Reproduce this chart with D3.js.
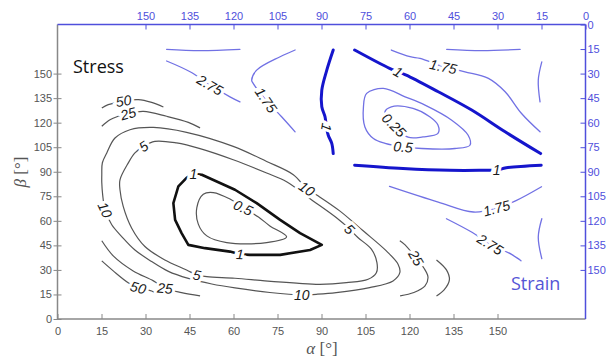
<!DOCTYPE html>
<html>
<head>
<meta charset="utf-8">
<script src="https://cdn.jsdelivr.net/npm/d3@7"></script>
<style>
  body { margin: 0; background: #fff; }
  svg { display: block; }
  .tick text { font-family: "Liberation Sans", Arial, sans-serif; font-size: 11px; }
</style>
</head>
<body>
<svg id="contourVis" width="606" height="362"></svg>
<script>
// axis ticks (degrees)
const tickValues = [0, 15, 30, 45, 60, 75, 90, 105, 120, 135, 150];

// stress contours, [alpha, beta] on bottom/left axes
const stress50Upper = [[15.1,129],[17.3,131],[19.6,132.1],[22.5,133.3],[27.5,134.1],[32.1,132.4],[36.1,129.6]];
const stress25Upper = [[15.1,117.8],[17.9,121.8],[20.7,123.9],[24.1,125.6],[29.3,126.9],[37.2,123.9],[44.6,120.2],[48.6,116.8]];
const stress10 = [[15.1,88.2],[15.3,95.5],[16.8,101.5],[19.6,110.6],[24.7,115.7],[32.7,117.1],[44.0,114.1],[59.9,105.5],[71.3,96.3],[80.4,88.2],[85.0,79.6],[88.8,75.3],[96.2,66.1],[104.2,53.9],[112.1,41.6],[116.1,33.5],[116.7,28.3],[114.4,23.3],[106.4,19.2],[95.0,16.1],[88.2,15.1],[83.3,14.7],[72.4,16.2],[60.5,19.0],[52.6,21.4],[44.6,24.8],[37.8,29.1],[32.1,35.1],[26.4,42.2],[21.9,50.4],[18.5,57.6],[16.2,66.7],[15.4,75.9],[15.1,83.3]];
const stress5 = [[21.3,85.1],[24.1,95.3],[26.4,101.5],[29.3,105.5],[33.2,108.6],[40.6,107.6],[48.6,104.1],[59.9,97.3],[71.3,89.2],[78.1,83.9],[86.1,73.5],[95.0,62.0],[99.6,54.9],[102.4,49.8],[107.0,42.7],[108.9,34.5],[108.7,28.3],[105.9,24.3],[98.5,22.2],[89.4,21.2],[81.5,21.9],[70.7,23.3],[60.5,24.9],[50.9,25.9],[47.5,26.9],[44.0,30.0],[36.6,36.1],[29.8,44.3],[25.3,55.5],[22.4,68.8],[21.3,79.0]];
const stress1 = [[46.3,88.8],[44.0,86.3],[41.2,81.0],[39.5,70.8],[40.1,60.6],[42.3,52.5],[44.6,45.3],[50.3,43.3],[58.8,41.2],[62.2,39.6],[65.6,39.2],[75.9,39.2],[86.1,42.2],[90.1,45.3],[82.7,52.5],[75.9,60.6],[67.9,70.8],[60.5,79.0],[49.2,88.2]];
const stress05 = [[58.8,73.3],[53.1,77.3],[49.7,76.3],[47.5,68.1],[48.0,58.0],[50.9,50.8],[57.7,46.7],[71.3,46.7],[78.1,50.2],[72.4,56.9],[68.5,62.3],[63.3,68.0]];
const stress25Lower = [[15.1,47.8],[19.0,38.6],[25.8,29.4],[32.7,23.3],[36.6,18.8],[42.3,16.1],[48.6,14.1]];
const stress50Lower = [[15.1,35.5],[19.0,29.4],[24.1,22.2],[27.5,19.2],[32.1,17.1],[33.2,16.1]];
const stress25Right = [[116.7,47.8],[118.5,45.3],[122.2,37.3],[124.9,31.2],[126.3,25.7],[125.3,20.2],[121.5,16.2],[116.8,14.1]];
const stress50Right = [[129.2,36.1],[132.6,30.0],[133.6,23.9],[131.8,17.8],[129.2,14.1]];

// strain contours, [alpha, beta] on top/right axes
const strainArcTopLeft = [[142.8,15.2],[131.4,16.0],[117.8,15.2]];
const strain275Upper = [[142.8,22.3],[134.8,28.9],[128.0,37.0],[121.2,44.2],[117.8,47.3]];
const strain175Upper = [[99.0,15.6],[104.1,19.7],[112.1,27.9],[113.8,34.0],[113.3,36.0],[108.9,46.2],[103.6,56.4],[99.0,65.6]];
const strain1Vertical = [[86.0,15.6],[88.2,27.9],[89.9,40.1],[89.9,50.3],[88.8,56.4],[88.3,62.8],[87.7,67.7],[86.5,72.7],[86.0,78.9]];
const strain1Diagonal = [[78.7,15.6],[66.8,26.8],[63.9,28.9],[61.1,30.9],[50.2,41.1],[38.8,52.3],[27.4,65.6],[15.3,78.9]];
const strain1Lower = [[78.7,86.0],[62.2,88.0],[46.3,89.1],[33.2,89.1],[30.3,89.1],[27.0,87.6],[15.1,86.0]];
const strain05 = [[62.2,74.8],[55.8,75.8],[44.5,75.8],[39.4,73.8],[40.0,67.7],[45.6,58.5],[54.7,49.3],[61.5,44.2],[68.9,39.1],[74.6,42.1],[75.7,50.3],[75.2,62.6],[72.3,69.7],[68.3,72.7]];
const strain025 = [[65.3,61.5],[68.4,53.6],[66.2,50.3],[58.8,51.3],[53.1,56.4],[50.3,61.5],[50.3,66.6],[55.4,68.7],[60.5,68.9]];
const strain175UpperRight = [[66.2,15.6],[59.8,19.7],[56.4,20.7],[48.5,25.8],[41.1,28.9],[33.1,32.9],[27.4,41.1],[21.8,54.4],[15.5,65.6]];
const strainArcTopRight = [[47.3,15.2],[35.4,16.0],[22.3,15.2]];
const strainArcRightUpper = [[14.9,22.8],[16.1,34.0],[15.5,47.3]];
const strain175Lower = [[66.8,98.9],[50.2,108.5],[38.2,114.6],[30.3,112.3],[23.5,107.5],[15.0,99.2]];
const strain275Lower = [[47.4,118.7],[38.7,127.0],[32.5,134.4],[25.2,140.5],[22.0,144.4]];
const strainArcRightLower = [[14.9,118.7],[16.1,129.9],[14.9,143.1]];

// contour labels: [text, alpha, beta]
const stressLabels = [["50",22.5,133.3],["25",24.1,125.5],["5",29.3,105.5],["10",16.2,66.7],["1",46.3,88.8],["0.5",63.3,68.0],["1",62.2,39.6],["10",85.0,79.6],["5",99.6,54.9],["10",83.3,14.7],["5",47.5,26.9],["50",27.5,19.2],["25",36.6,18.8],["25",122.2,37.3]];
const strainLabels = [["2.75",128.0,37.0],["1.75",108.9,46.2],["1",88.3,62.8],["0.25",65.3,61.5],["0.5",62.2,74.8],["1",63.9,28.9],["1.75",48.5,25.8],["1",30.3,89.1],["1.75",30.3,112.3],["2.75",32.5,134.4]];

const svg = d3.select('svg#contourVis');
const margin = { left: 57.5, right: 585.5, top: 24.5, bottom: 319 };

const x = d3.scaleLinear().domain([0, 180]).range([margin.left, margin.right]);
const y = d3.scaleLinear().domain([0, 180]).range([margin.bottom, margin.top]);
const xs = d3.scaleLinear().domain([180, 0]).range([margin.left, margin.right]);
const ys = d3.scaleLinear().domain([0, 180]).range([margin.top, margin.bottom]);

const strainBlue = '#4f4fdc';

// contour lines: [points, closed, bold]
const stressSets = [
  [stress50Upper, false, false], [stress25Upper, false, false], [stress10, true, false],
  [stress5, true, false], [stress05, true, false], [stress25Lower, false, false],
  [stress50Lower, false, false], [stress25Right, false, false], [stress50Right, false, false],
  [stress1, true, true]
];
const strainSets = [
  [strainArcTopLeft, false, false], [strain275Upper, false, false], [strain175Upper, false, false],
  [strain05, true, false], [strain025, true, false], [strain175UpperRight, false, false],
  [strainArcTopRight, false, false], [strainArcRightUpper, false, false], [strain175Lower, false, false],
  [strain275Lower, false, false], [strainArcRightLower, false, false],
  [strain1Vertical, false, true], [strain1Diagonal, false, true], [strain1Lower, false, true]
];

const linesG = svg.append('g').attr('class', 'contours');

stressSets.forEach(([pts, closed, bold]) => {
  const line = d3.line().x(d => x(d[0])).y(d => y(d[1]))
    .curve(bold ? d3.curveLinearClosed : (closed ? d3.curveCatmullRomClosed : d3.curveCatmullRom));
  linesG.append('path')
    .attr('d', line(pts))
    .attr('fill', 'none')
    .attr('stroke', bold ? '#111' : '#555')
    .attr('stroke-width', bold ? 2.6 : 1.2)
    .attr('stroke-linejoin', 'round');
});

strainSets.forEach(([pts, closed, bold]) => {
  const line = d3.line().x(d => xs(d[0])).y(d => ys(d[1]))
    .curve(closed ? d3.curveCatmullRomClosed : d3.curveCatmullRom);
  linesG.append('path')
    .attr('d', line(pts))
    .attr('fill', 'none')
    .attr('stroke', bold ? '#1515cc' : '#7171e4')
    .attr('stroke-width', bold ? 3 : 1.3)
    .attr('stroke-linecap', 'round');
});

// labels sit on the lines, white halo makes the gap
const stressAngles = [-8, -15, -35, 65, 0, 25, 3, 35, 45, 0, 10, 15, 5, 60];
const strainAngles = [30, 55, 100, 45, 5, 30, 12, 0, -15, 32];

const labelG = svg.append('g')
  .attr('font-family', '"Liberation Sans", Arial, sans-serif')
  .attr('font-size', 14)
  .attr('font-style', 'italic')
  .attr('text-anchor', 'middle')
  .attr('dominant-baseline', 'central');

function addLabels(labels, angles, sx, sy) {
  labelG.selectAll(null)
    .data(labels)
    .enter()
    .append('text')
    .attr('transform', (d, i) => `translate(${sx(d[1])},${sy(d[2])}) rotate(${angles[i]})`)
    .attr('fill', '#1a1a1a')
    .attr('stroke', '#fff')
    .attr('stroke-width', 6)
    .attr('paint-order', 'stroke')
    .text(d => d[0]);
}
addLabels(stressLabels, stressAngles, x, y);
addLabels(strainLabels, strainAngles, xs, ys);

// axes
const bottomAxis = svg.append('g')
  .attr('transform', `translate(0,${margin.bottom})`)
  .call(d3.axisBottom(x).tickValues(tickValues).tickSizeInner(-5).tickSizeOuter(0).tickPadding(8))
  .call(g => g.select('.domain').remove());
bottomAxis.selectAll('line').attr('stroke', '#888');
bottomAxis.selectAll('text').attr('fill', '#555');

const leftAxis = svg.append('g')
  .attr('transform', `translate(${margin.left},0)`)
  .call(d3.axisLeft(y).tickValues(tickValues).tickSizeInner(4).tickSizeOuter(0).tickPadding(1.5))
  .call(g => g.select('.domain').remove());
leftAxis.selectAll('line').attr('stroke', '#888').attr('x1', 4);
leftAxis.selectAll('text').attr('fill', '#555');

const topAxis = svg.append('g')
  .attr('transform', `translate(0,${margin.top})`)
  .call(d3.axisTop(xs).tickValues(tickValues).tickSizeInner(-5).tickSizeOuter(0).tickPadding(5))
  .call(g => g.select('.domain').remove());
topAxis.selectAll('line').attr('stroke', strainBlue);
topAxis.selectAll('text').attr('fill', strainBlue);

const rightAxis = svg.append('g')
  .attr('transform', `translate(${margin.right},0)`)
  .call(d3.axisRight(ys).tickValues(tickValues).tickSizeInner(-5).tickSizeOuter(0).tickPadding(2))
  .call(g => g.select('.domain').remove());
rightAxis.selectAll('line').attr('stroke', strainBlue);
rightAxis.selectAll('text').attr('fill', strainBlue);

// frame: grey for stress axes, blue for strain axes
svg.append('line').attr('x1', margin.left).attr('x2', margin.right).attr('y1', margin.bottom).attr('y2', margin.bottom)
  .attr('stroke', '#888').attr('stroke-width', 1.5);
svg.append('line').attr('x1', margin.left).attr('x2', margin.left).attr('y1', margin.top).attr('y2', margin.bottom)
  .attr('stroke', '#888').attr('stroke-width', 1.5);
svg.append('line').attr('x1', margin.left).attr('x2', margin.right).attr('y1', margin.top).attr('y2', margin.top)
  .attr('stroke', strainBlue).attr('stroke-width', 1.5);
svg.append('line').attr('x1', margin.right).attr('x2', margin.right).attr('y1', margin.top).attr('y2', margin.bottom)
  .attr('stroke', strainBlue).attr('stroke-width', 1.5);

// axis titles
svg.append('text')
  .attr('x', 322).attr('y', 354)
  .attr('text-anchor', 'middle')
  .attr('font-family', '"Liberation Serif", "Times New Roman", serif')
  .attr('font-size', 17)
  .attr('fill', '#555')
  .html('<tspan font-style="italic">α</tspan> [°]');

svg.append('text')
  .attr('transform', 'translate(26,172) rotate(-90)')
  .attr('text-anchor', 'middle')
  .attr('font-family', '"Liberation Serif", "Times New Roman", serif')
  .attr('font-size', 17)
  .attr('fill', '#555')
  .html('<tspan font-style="italic">β</tspan> [°]');

// panel names
svg.append('text')
  .attr('x', 73).attr('y', 73)
  .attr('font-family', '"Open Sans", sans-serif')
  .attr('font-size', 18)
  .attr('fill', '#111')
  .text('Stress');

svg.append('text')
  .attr('x', 511).attr('y', 290)
  .attr('font-family', '"Open Sans", sans-serif')
  .attr('font-size', 18)
  .attr('fill', '#5555d6')
  .text('Strain');
</script>
</body>
</html>
